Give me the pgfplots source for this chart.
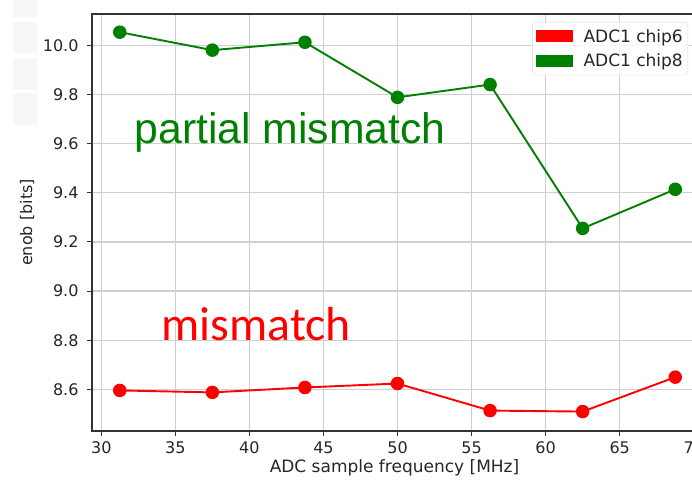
\documentclass[border=0pt]{standalone}
\usepackage{fontspec}
\setmainfont{DejaVu Sans}
\newfontfamily\annotA{Liberation Sans}
\newfontfamily\annotB{Carlito}
\usepackage{pgfplots}
\pgfplotsset{compat=1.18}

\definecolor{mplgreen}{HTML}{008000}
\definecolor{mplred}{HTML}{FF0000}
\definecolor{gridgray}{HTML}{CFCFCF}
\definecolor{txtgray}{HTML}{262626}

\pgfplotsset{
  patch entry/.style={
    legend image code/.code={\fill[##1, sharp corners, fill opacity=1, draw=none] (0bp,-6bp) rectangle (37bp,6bp);}
  }
}

\begin{document}
\begin{tikzpicture}[x=1bp,y=1bp]
% faint toolbar panel on the left
\fill[black!3] (13,464) rectangle (37,481);
\fill[black!3] (13,428) rectangle (37,459);
\fill[black!3] (13,391) rectangle (37,423);
\fill[black!3] (13,356) rectangle (37,388);

\begin{axis}[
  at={(92bp,50bp)}, anchor=south west,
  scale only axis,
  width=611bp, height=417bp,
  xmin=29.375, xmax=70.625,
  ymin=8.431, ymax=10.127,
  xtick={30,35,...,70},
  ytick={8.6,8.8,...,10.01},
  yticklabel style={xshift=-5bp, /pgf/number format/.cd,fixed,fixed zerofill,precision=1},
  xticklabel style={yshift=-2bp},
  /pgf/number format/assume math mode=true,
  tick label style={font=\fontsize{16bp}{19bp}\selectfont, text=txtgray},
  tick pos=left,
  tick align=outside,
  major tick length=5bp,
  every tick/.style={black!80, line width=1bp},
  axis line style={black!80, line width=1.2bp},
  grid=major,
  major grid style={gridgray, line width=1.3bp},
  xlabel={ADC sample frequency [MHz]},
  ylabel={enob [bits]},
  x label style={at={(rel axis cs:0.5,0)}, anchor=base, yshift=-42bp, xshift=-3bp,
    font=\fontsize{17bp}{20bp}\selectfont, text=txtgray},
  y label style={at={(rel axis cs:-0.1064,0.5)}, anchor=center,
    font=\fontsize{16bp}{19bp}\selectfont, text=txtgray},
  legend cell align=left,
  legend style={
    at={(rel axis cs:1,1)}, anchor=north east, xshift=-15bp, yshift=-8bp,
    font=\fontsize{17bp}{20bp}\selectfont, text=txtgray,
    draw=black!15, rounded corners=3bp, fill=white, fill opacity=0.8, text opacity=1,
    inner xsep=3bp, inner ysep=5bp,
    row sep=6bp,
    nodes={inner sep=2bp},
    /tikz/every odd column/.append style={column sep=9bp},
  },
]
\addlegendimage{patch entry, fill=mplred}
\addlegendentry{ADC1 chip6}
\addlegendimage{patch entry, fill=mplgreen}
\addlegendentry{ADC1 chip8}

% ADC1 chip6
\addplot[forget plot, mplred, line width=1.9bp, mark=*, mark size=5.8bp,
  mark options={fill=mplred, draw=none}] coordinates {
  (31.25,8.596) (37.5,8.588) (43.75,8.608) (50,8.624)
  (56.25,8.514) (62.5,8.510) (68.75,8.650)
};
% ADC1 chip8
\addplot[forget plot, mplgreen, line width=1.9bp, mark=*, mark size=5.8bp,
  mark options={fill=mplgreen, draw=none}] coordinates {
  (31.25,10.053) (37.5,9.980) (43.75,10.012) (50,9.788)
  (56.25,9.840) (62.5,9.255) (68.75,9.414)
};

\node[anchor=base west, inner sep=0pt, text=mplgreen,
  font=\annotA\fontsize{42.7bp}{48bp}\selectfont] at (axis cs:32.25,9.6) {partial mismatch};
\node[anchor=base west, inner sep=0pt, text=mplred,
  font=\annotB\fontsize{47.8bp}{54bp}\selectfont] at (axis cs:34.07,8.8) {mismatch};
\end{axis}

\pgfresetboundingbox
\path[use as bounding box] (0,0) rectangle (692,481);
\end{tikzpicture}
\end{document}
